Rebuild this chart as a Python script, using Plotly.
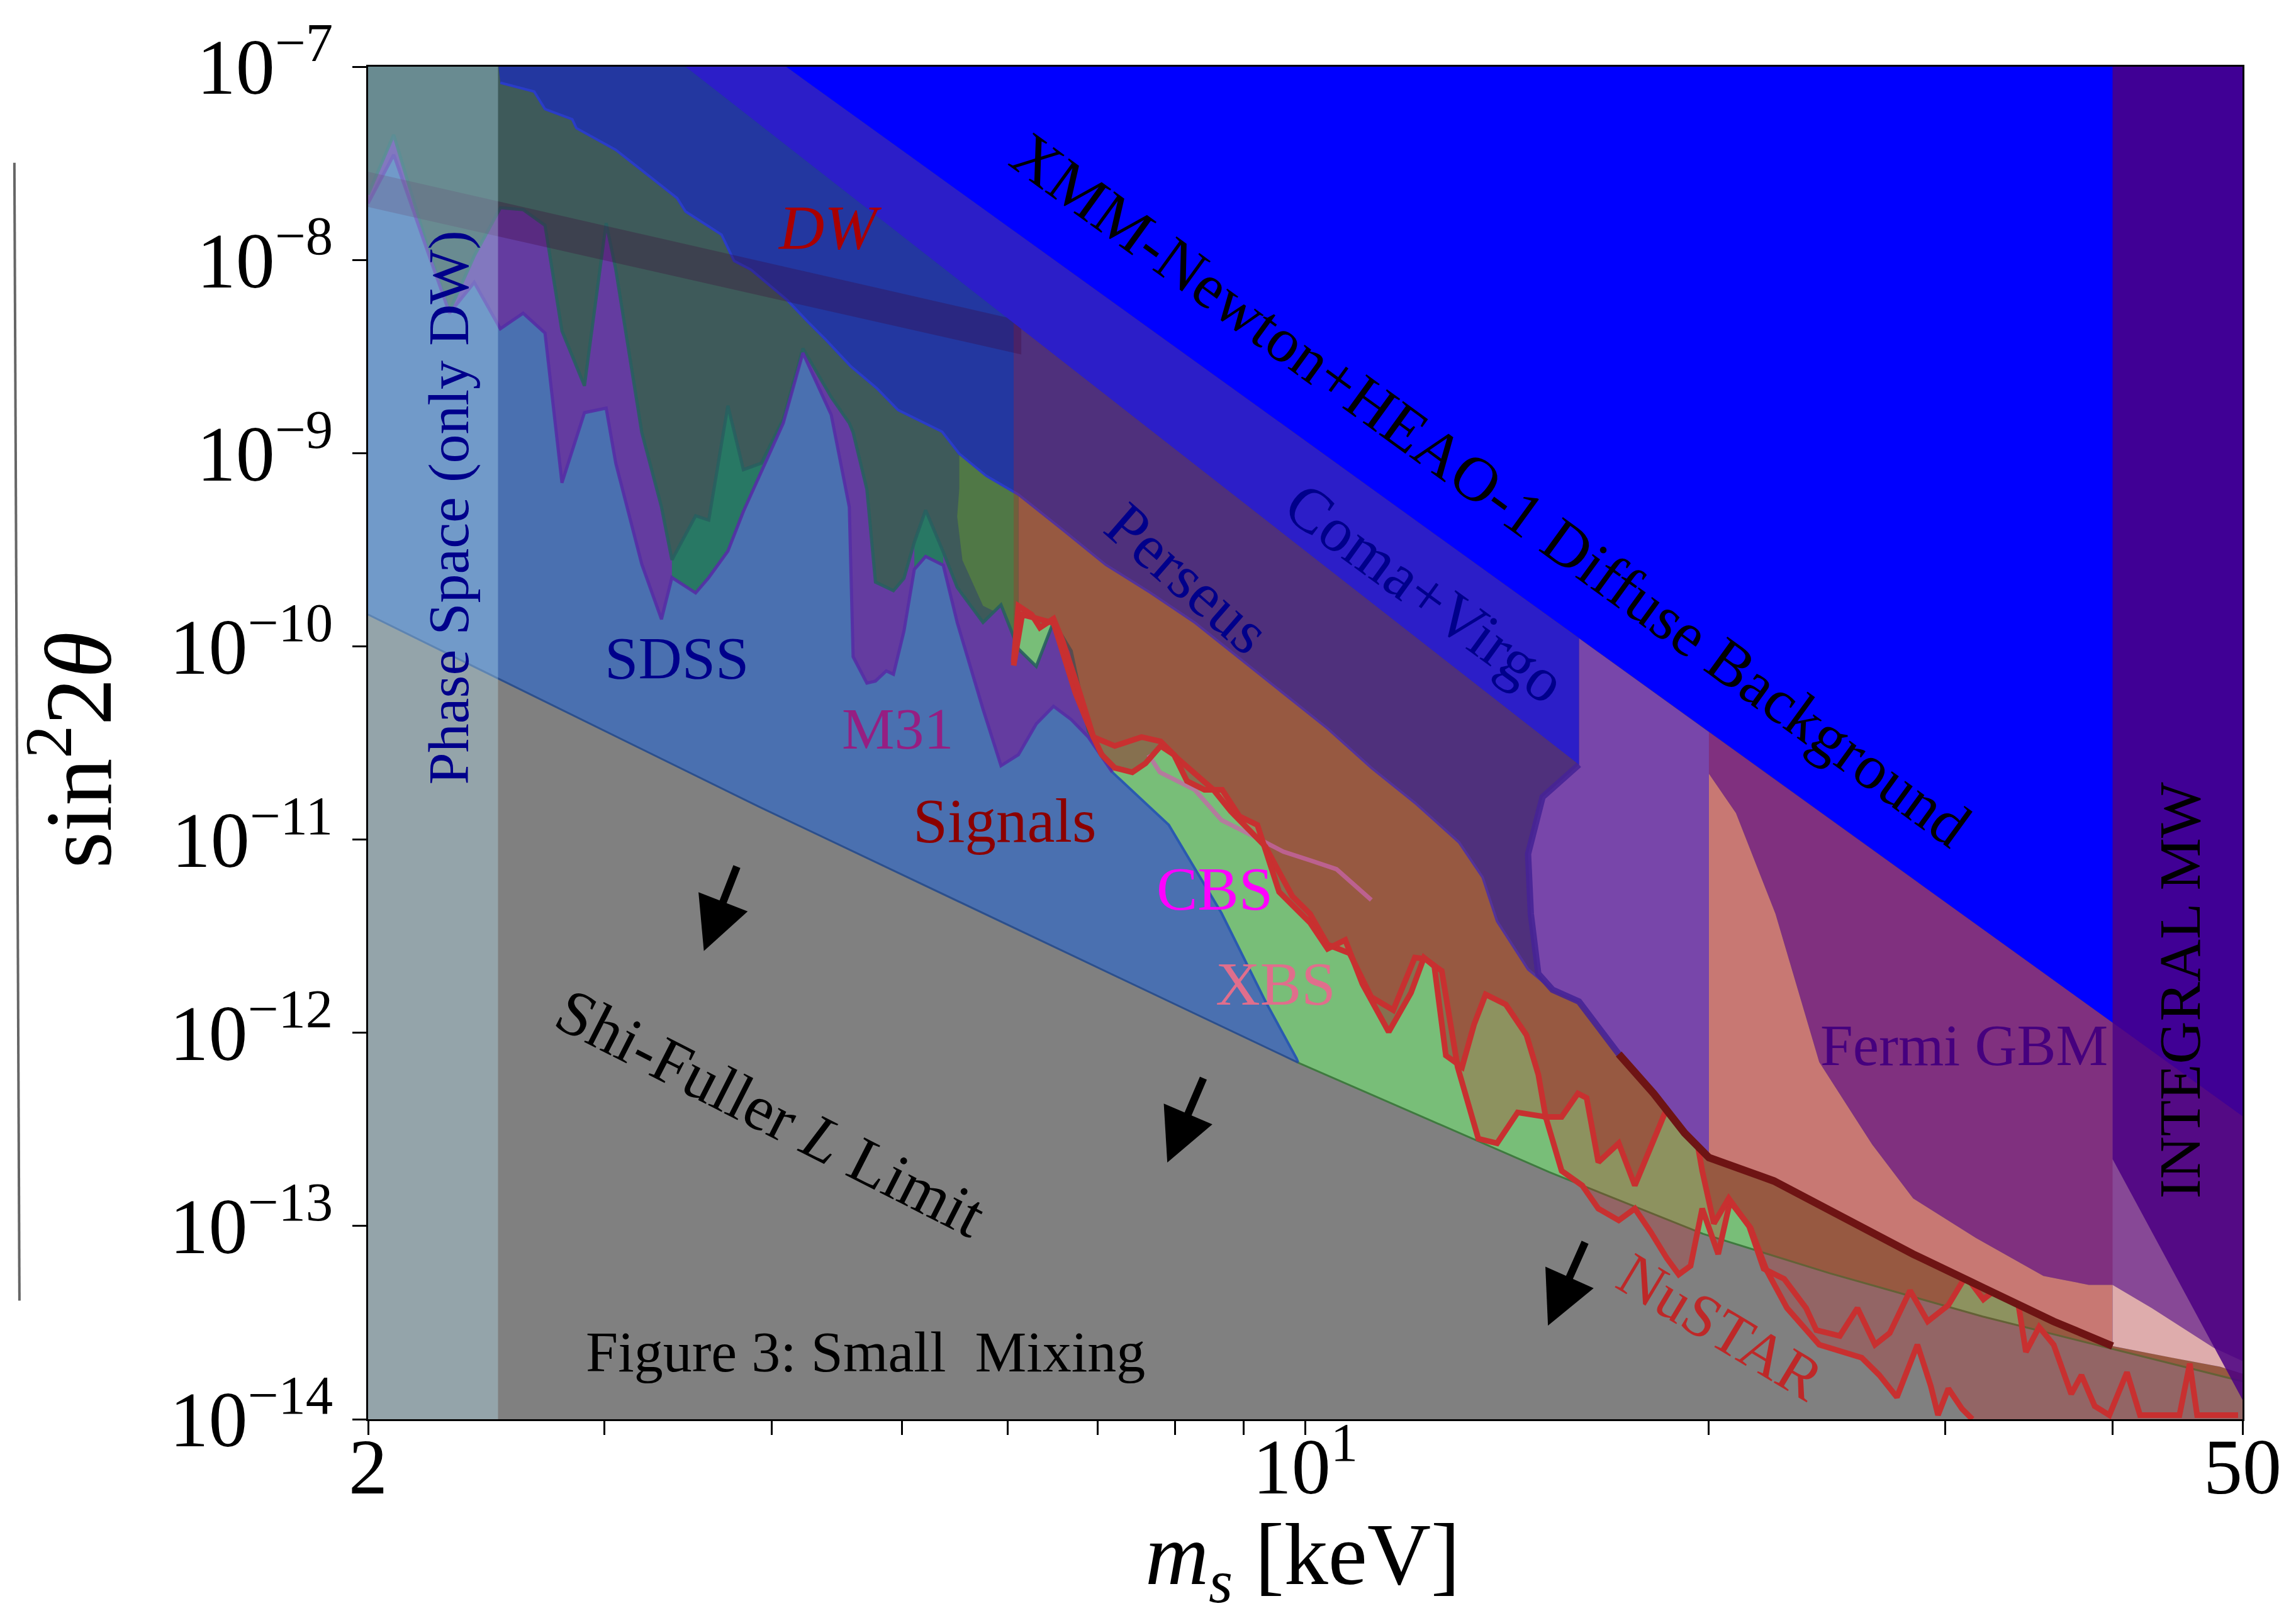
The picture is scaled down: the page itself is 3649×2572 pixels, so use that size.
import math
import plotly.graph_objects as go

FONT = "Liberation Serif, Times New Roman, serif"

# ---------------- data: m_s [keV]  vs  sin^2(2 theta) ----------------
# XMM-Newton+HEAO-1 diffuse background limit (straight in log-log)
XMM_M = [4.1, 16.0, 20.0, 40.0, 50.0]
XMM_S = [1.0e-7, 1.1e-10, 3.6e-11, 1.13e-12, 3.7e-13]

# lower edge of the Coma+Virgo band
COMA_LOW_M = [3.45, 16.0]
COMA_LOW_S = [1.0e-7, 2.44e-11]

# upper envelope of the excluded stack (Perseus lower edge / dark-red curve)
C1_M = [2.0, 2.5, 2.51, 2.66, 2.71, 2.84, 2.86, 3.06, 3.20, 3.40,
        3.45, 3.67, 3.75, 3.86, 4.11, 4.26, 4.39, 4.58, 4.79, 4.97,
        5.36, 5.52, 5.78, 6.11, 6.59, 7.10, 7.66, 8.28, 8.93, 9.63,
        10.39, 11.20, 12.07, 13.02, 13.56, 13.90, 14.66, 15.29, 16.0, 17.13,
        18.19, 19.18, 20.0, 22.36, 25.24, 28.40, 32.04, 36.14, 40.0, 44.3,
        48.1, 50.0]
C1_S = [1.05e-7, 1.05e-7, 8.26e-8, 7.44e-8, 6.04e-8, 5.34e-8, 4.81e-8, 3.71e-8, 2.91e-8, 2.09e-8,
        1.78e-8, 1.35e-8, 9.88e-9, 8.90e-9, 6.17e-9, 4.75e-9, 3.86e-9, 2.82e-9, 2.17e-9, 1.67e-9,
        1.29e-9, 9.93e-10, 7.64e-10, 6.10e-10, 4.02e-10, 2.64e-10, 1.90e-10, 1.32e-10, 8.68e-11, 5.71e-11,
        3.76e-11, 2.35e-11, 1.55e-11, 9.68e-12, 6.38e-12, 3.78e-12, 2.13e-12, 1.67e-12, 1.45e-12, 7.76e-13,
        4.85e-13, 3.03e-13, 2.26e-13, 1.71e-13, 1.105e-13, 7.15e-14, 4.79e-14, 3.21e-14, 2.39e-14, 2.08e-14,
        1.87e-14, 1.72e-14]

# left edge of the olive patch below the envelope near 5-6 keV
OLIVE_M = [6.11, 5.93, 5.75, 5.55, 5.50, 5.52]
OLIVE_S = [9.47e-11, 1.46e-10, 1.62e-10, 2.79e-10, 4.70e-10, 6.54e-10]

# SDSS / M31 band: upper (U) and lower (L) curves
BAND_M = [2.00, 2.09, 2.21, 2.30, 2.40, 2.51, 2.61, 2.71, 2.79, 2.90,
          3.01, 3.06, 3.20, 3.31, 3.37, 3.51, 3.59, 3.71, 3.81, 3.93,
          4.08, 4.22, 4.43, 4.57, 4.60, 4.71, 4.78, 4.87, 4.93, 5.02,
          5.11, 5.21, 5.37, 5.50, 5.75, 5.93, 6.11, 6.30, 6.49, 6.69,
          6.89, 7.18]
BAND_U = [2.18e-8, 4.44e-8, 1.23e-8, 5.44e-9, 1.05e-8, 1.86e-8, 1.82e-8, 1.51e-8, 4.29e-9, 2.23e-9,
          1.55e-8, 8.94e-9, 1.28e-9, 5.26e-10, 2.80e-10, 4.74e-10, 4.50e-10, 1.76e-9, 8.21e-10, 8.88e-10,
          1.50e-9, 3.48e-9, 1.95e-9, 1.43e-9, 1.28e-9, 6.49e-10, 2.15e-10, 2.03e-10, 1.94e-10, 2.25e-10,
          3.46e-10, 5.07e-10, 3.08e-10, 2.02e-10, 1.33e-10, 1.64e-10, 9.70e-11, 7.87e-11, 1.34e-10, 9.47e-11,
          3.64e-11, 2.31e-11]
BAND_L = [1.96e-8, 3.50e-8, 1.16e-8, 5.30e-9, 7.64e-9, 4.40e-9, 5.30e-9, 4.18e-9, 7.02e-10, 1.62e-9,
          1.71e-9, 8.88e-10, 2.66e-10, 1.38e-10, 2.27e-10, 1.89e-10, 2.27e-10, 3.11e-10, 4.99e-10, 8.00e-10,
          1.43e-9, 3.30e-9, 1.58e-9, 5.26e-10, 8.83e-11, 6.45e-11, 6.61e-11, 7.46e-11, 7.16e-11, 1.20e-10,
          2.50e-10, 2.92e-10, 2.63e-10, 1.33e-10, 4.72e-11, 2.41e-11, 2.75e-11, 3.97e-11, 4.89e-11, 4.18e-11,
          3.39e-11, 2.23e-11]
GREEN_RANGES = [(3.37, 4.22), (5.11, 5.37)]

# right edge of the blue region
BLUE_EDGE_M = [7.91, 8.66, 9.34, 9.85, 9.88]
BLUE_EDGE_S = [1.19e-11, 4.16e-12, 1.45e-12, 7.37e-13, 7.0e-13]

# Shi-Fuller L limit
SF_M = [2.0, 3.92, 9.88, 15.2, 19.8, 24.6, 32.0, 50.0]
SF_S = [1.46e-10, 1.47e-11, 7.0e-13, 1.90e-13, 9.1e-14, 5.7e-14, 3.4e-14, 1.57e-14]

# NuSTAR limits (two curves)
NU1_M = [6.06, 6.11, 6.25, 6.34, 6.49, 6.59, 6.79, 6.95, 7.05, 7.21,
         7.43, 7.60, 7.80, 7.98, 8.16, 8.41, 8.67, 8.93, 9.21, 9.42,
         9.56, 9.78, 10.08, 10.39, 10.71, 11.03, 11.29, 11.54, 11.99, 12.26,
         12.48, 12.73, 13.09, 13.36, 13.63, 14.11, 14.62, 14.92, 15.11, 15.53,
         15.97, 16.21, 16.54, 17.13, 17.61, 18.61, 18.99, 19.52, 19.77, 20.17,
         20.69, 21.43, 21.97, 22.76, 23.63, 24.05, 25.04, 25.81, 26.60, 27.28,
         28.25, 29.12, 30.17, 31.09, 32.04, 32.86, 33.87, 34.47, 35.26, 36.15,
         37.26, 37.92, 38.79, 39.78, 41.00, 41.93, 44.87, 45.67, 46.25, 49.62]
NU1_S = [8.24e-11, 1.62e-10, 1.46e-10, 1.25e-10, 1.39e-10, 1.07e-10, 5.71e-11, 3.39e-11, 2.75e-11, 2.35e-11,
         2.23e-11, 2.48e-11, 3.05e-11, 2.75e-11, 2.01e-11, 1.81e-11, 1.81e-11, 1.32e-11, 1.19e-11, 7.46e-12,
         5.36e-12, 4.58e-12, 3.72e-12, 2.72e-12, 3.02e-12, 1.79e-12, 1.31e-12, 1.01e-12, 1.61e-12, 2.45e-12,
         2.21e-12, 7.63e-13, 6.64e-13, 1.10e-12, 1.58e-12, 1.40e-12, 9.73e-13, 6.08e-13, 3.67e-13, 3.67e-13,
         4.85e-13, 4.60e-13, 2.14e-13, 2.68e-13, 1.62e-13, 4.08e-13, 4.22e-13, 3.19e-13, 1.93e-13, 1.03e-13,
         1.39e-13, 9.95e-14, 6.01e-14, 5.32e-14, 3.76e-14, 2.89e-14, 2.70e-14, 3.76e-14, 2.43e-14, 2.79e-14,
         4.63e-14, 3.21e-14, 3.89e-14, 5.51e-14, 4.17e-14, 4.79e-14, 4.79e-14, 2.23e-14, 3.00e-14, 2.43e-14,
         1.35e-14, 1.69e-14, 1.17e-14, 1.05e-14, 1.75e-14, 1.05e-14, 1.05e-14, 1.94e-14, 1.05e-14, 1.05e-14]
NU2_M = [6.06, 6.15, 6.49, 6.74, 6.95, 7.21, 7.55, 7.80, 8.04, 8.25,
         8.54, 8.80, 9.07, 9.34, 9.49, 9.78, 10.08, 10.39, 10.79, 11.20,
         11.63, 12.07, 12.29, 12.64, 12.99, 13.46, 13.90, 14.40, 15.11, 15.53,
         16.09, 16.54, 17.13, 17.61, 18.10, 18.61, 18.99, 19.38, 19.77, 20.32,
         20.74, 21.48, 22.08, 22.87, 24.17, 26.00, 26.80, 27.62, 28.61, 29.27,
         29.64, 30.17, 30.89, 31.44]
NU2_S = [7.95e-11, 1.46e-10, 1.32e-10, 5.71e-11, 3.39e-11, 3.05e-11, 3.39e-11, 3.22e-11, 2.61e-11, 2.23e-11,
         1.81e-11, 1.40e-11, 1.13e-11, 9.19e-12, 7.46e-12, 5.09e-12, 4.13e-12, 2.86e-12, 2.58e-12, 1.53e-12,
         1.31e-12, 2.45e-12, 2.41e-12, 2.09e-12, 6.64e-13, 2.83e-13, 2.68e-13, 3.87e-13, 3.67e-13, 1.93e-13,
         1.62e-13, 1.23e-13, 1.07e-13, 1.23e-13, 9.29e-14, 6.79e-14, 5.61e-14, 6.22e-14, 1.23e-13, 7.15e-14,
         1.34e-13, 9.78e-14, 5.90e-14, 3.76e-14, 2.43e-14, 2.08e-14, 1.69e-14, 1.30e-14, 2.43e-14, 1.49e-14,
         1.05e-14, 1.44e-14, 1.13e-14, 1.0e-14]

# CBS curve
CBS_M = [7.64, 7.79, 8.27, 8.66, 9.20, 9.63, 10.08, 10.55, 11.20]
CBS_S = [2.75e-11, 2.23e-11, 1.81e-11, 1.26e-11, 1.02e-11, 8.66e-12, 7.81e-12, 7.03e-12, 4.87e-12]

# Fermi GBM lower edge
FERMI_M = [20.0, 20.95, 22.42, 24.17, 26.47, 28.40, 31.64, 35.52, 38.40, 40.0, 42.78, 47.55, 50.0]
FERMI_S = [2.19e-11, 1.37e-11, 4.13e-12, 7.05e-13, 2.64e-13, 1.39e-13, 8.66e-14, 5.51e-14, 4.96e-14,
           4.96e-14, 3.76e-14, 2.35e-14, 2.0e-14]

# INTEGRAL MW lower edge
INTEGRAL_M = [40.0, 50.0]
INTEGRAL_S = [2.22e-13, 1.26e-14]

# left edge of the lavender region near 15-16 keV
BLOB_M = [14.92, 14.73, 14.66, 15.03, 16.0]
BLOB_S = [2.02e-12, 4.13e-12, 8.42e-12, 1.66e-11, 2.44e-11]

# DW band
DW_M = [2.0, 6.14]
DW_TOP_S = [2.86e-8, 4.84e-9]
DW_BOT_S = [1.88e-8, 3.24e-9]

# phase-space strip
PHASE_M = [2.0, 2.5]

# arrows (tip, tail)
ARROW_TIP_M = [3.56, 7.89, 15.17]
ARROW_TIP_S = [2.65e-12, 2.13e-13, 3.05e-14]
ARROW_TAIL_M = [3.77, 8.40, 16.18]
ARROW_TAIL_S = [7.33e-12, 5.89e-13, 8.33e-14]

X_TICKS = [2, 3, 4, 5, 6, 7, 8, 9, 10, 20, 30, 40, 50]
X_TICKTEXT = ["2", "", "", "", "", "", "", "", "10<sup>1</sup>", "", "", "", "50"]
Y_TICKS = [1e-14, 1e-13, 1e-12, 1e-11, 1e-10, 1e-9, 1e-8, 1e-7]
Y_TICKTEXT = ["10<sup>\u221214</sup>", "10<sup>\u221213</sup>", "10<sup>\u221212</sup>",
              "10<sup>\u221211</sup>", "10<sup>\u221210</sup>", "10<sup>\u22129</sup>",
              "10<sup>\u22128</sup>", "10<sup>\u22127</sup>"]

Y_HI = 2.0e-7
Y_LO = 1.0e-15


def seg(ms, ss, lo, hi):
    xs, ys = [], []
    for m, s in zip(ms, ss):
        if lo - 1e-9 <= m <= hi + 1e-9:
            xs.append(m)
            ys.append(s)
    return xs, ys


fig = go.Figure()


def poly(xs, ys, color):
    fig.add_trace(go.Scatter(x=xs, y=ys, mode="lines", fill="toself", fillcolor=color,
                             line=dict(width=0, color=color), hoverinfo="skip", showlegend=False))


def line(xs, ys, color, width):
    fig.add_trace(go.Scatter(x=xs, y=ys, mode="lines", line=dict(width=width, color=color),
                             hoverinfo="skip", showlegend=False))


# dark slate below envelope (left)
x, y = seg(C1_M, C1_S, 2.0, 6.11)
poly(x + [x[-1], x[0]], y + [Y_LO, Y_LO], "#3E5A5A")
# olive-brown below envelope (right)
x, y = seg(C1_M, C1_S, 6.11, 50)
poly(x + [x[-1], x[0]], y + [Y_LO, Y_LO], "#86704F")
# olive patch
x, y = seg(C1_M, C1_S, 5.52, 6.11)
poly(x + OLIVE_M, y + OLIVE_S, "#507846")
# XBS green
poly(NU1_M + [50, NU1_M[0]], NU1_S + [Y_LO, Y_LO], "#78BE78")
# M31 / SDSS band
poly(BAND_M + [BAND_M[-1], BAND_M[0]], BAND_U + [Y_LO, Y_LO], "#643CA0")
for lo, hi in GREEN_RANGES:
    xu, yu = seg(BAND_M, BAND_U, lo, hi)
    xl, yl = seg(BAND_M, BAND_L, lo, hi)
    poly(xu + xl[::-1], yu + yl[::-1], "#287864")
# blue region
poly(BAND_M + BLUE_EDGE_M + [BLUE_EDGE_M[-1], BAND_M[0]],
     BAND_L + BLUE_EDGE_S + [Y_LO, Y_LO], "#4A70B0")
# outlines
line(BAND_M, BAND_U, "rgba(40,95,95,0.9)", 5)
line(BAND_M, BAND_L, "rgba(85,45,165,0.9)", 5)
line(BAND_M[-1:] + BLUE_EDGE_M, BAND_L[-1:] + BLUE_EDGE_S, "#2A5AB0", 4)
x, y = seg(C1_M, C1_S, 2.51, 16.0)
line(x, y, "#2A3CC8", 4)
# Shi-Fuller gray
poly(SF_M + [SF_M[-1], SF_M[0]], SF_S + [Y_LO, Y_LO], "#808080")
x, y = seg(SF_M, SF_S, 2.0, 9.88)
line(x, y, "#2C4F8C", 3)
x, y = seg(SF_M, SF_S, 9.88, 50)
line(x, y, "#3F7A3F", 3)
# NuSTAR tint (above the lower NuSTAR curve)
poly(NU2_M + [50, 50, NU2_M[0]], NU2_S + [Y_LO, Y_HI, Y_HI], "rgba(200,30,30,0.27)")
# DW band
poly(DW_M + DW_M[::-1], DW_TOP_S + DW_BOT_S[::-1], "rgba(60,0,50,0.28)")
# CBS curve
line(CBS_M, CBS_S, "rgba(200,100,170,0.75)", 7)
# NuSTAR curves
line(NU2_M, NU2_S, "#C83030", 9)
line(NU1_M, NU1_S, "#C83030", 9)
# lavender region 15-20 keV
xa, ya = seg(XMM_M, XMM_S, 16.0, 20.0)
xc, yc = seg(C1_M, C1_S, 15.29, 20.0)
poly(xa + xc[::-1] + BLOB_M, ya + yc[::-1] + BLOB_S, "#7846AA")
line(BLOB_M[::-1] + xc, BLOB_S[::-1] + yc, "rgba(70,35,150,0.9)", 10)
# Fermi GBM
xa, ya = seg(XMM_M, XMM_S, 20.0, 50.0)
poly(xa + FERMI_M[::-1], ya + FERMI_S[::-1], "#80307F")
xa, ya = seg(XMM_M, XMM_S, 40.0, 50.0)
xf, yf = seg(FERMI_M, FERMI_S, 40.0, 50.0)
poly(xa + xf[::-1], ya + yf[::-1], "#874896")
# pink bands
xf, yf = seg(FERMI_M, FERMI_S, 20.0, 40.0)
xc, yc = seg(C1_M, C1_S, 20.0, 40.0)
poly(xf + xc[::-1], yf + yc[::-1], "#C87873")
xf, yf = seg(FERMI_M, FERMI_S, 40.0, 50.0)
xc, yc = seg(C1_M, C1_S, 40.0, 50.0)
poly(xf + xc[::-1], yf + yc[::-1], "#DEACAC")
# dark red envelope line
xc, yc = seg(C1_M, C1_S, 17.0, 40.0)
line(xc, yc, "#6E1414", 12)
# Coma+Virgo band
xa, ya = seg(XMM_M, XMM_S, 4.1, 16.0)
poly(xa + COMA_LOW_M[::-1], ya + COMA_LOW_S[::-1], "#2C1EC8")
# XMM-Newton + HEAO-1
poly(XMM_M + [XMM_M[-1], XMM_M[0]], XMM_S + [Y_HI, Y_HI], "#0000FF")
# INTEGRAL MW
poly([INTEGRAL_M[0], INTEGRAL_M[1]] + INTEGRAL_M[::-1], [Y_HI, Y_HI] + INTEGRAL_S[::-1],
     "rgba(75,0,130,0.85)")
# phase space strip
poly([PHASE_M[0], PHASE_M[1], PHASE_M[1], PHASE_M[0]], [Y_LO, Y_LO, Y_HI, Y_HI],
     "rgba(185,231,248,0.35)")

# ---------------- annotations ----------------
ann = []


def txt(text, x, y, size, color, angle=0):
    ann.append(dict(text=text, x=x, y=y, xref="paper", yref="paper", showarrow=False,
                    xanchor="center", yanchor="middle", textangle=angle,
                    font=dict(family=FONT, size=size, color=color)))


txt("XMM-Newton+HEAO-1 Diffuse Background", 0.599, 0.687, 100, "black", 36)
txt("Coma+Virgo", 0.564, 0.611, 100, "#00008B", 36)
txt("Perseus", 0.4374, 0.6218, 100, "#00008B", 41)
txt("<i>DW</i>", 0.2461, 0.8812, 100, "#AA0000")
txt("SDSS", 0.1648, 0.5624, 96, "#00008B")
txt("M31", 0.2828, 0.5109, 94, "#961E82")
txt("Signals", 0.3398, 0.4427, 99, "#8B0000")
txt("CBS", 0.4516, 0.3921, 98, "#FF00FF")
txt("XBS", 0.4843, 0.3220, 98, "#E06E8C")
txt("NuSTAR", 0.7217, 0.0682, 97, "#BE2828", 31)
txt("Fermi GBM", 0.8516, 0.2766, 93, "#46007E")
txt("INTEGRAL MW", 0.9664, 0.3174, 94, "black", -90)
txt("Shi-Fuller <i>L</i> Limit", 0.2148, 0.2269, 102, "black", 27)
txt("Phase Space (only DW)", 0.0430, 0.6738, 92, "#00008B", -90)
txt("Figure 3: Small\u00a0 Mixing", 0.2655, 0.0497, 92, "black")
# axis titles
txt("sin<sup>2</sup>2<i>\u03b8</i>", -0.1584, 0.4947, 150, "black", -90)
txt("<i>m</i><sub><i>s</i></sub> [keV]", 0.4985, -0.1045, 140, "black")

for tm, ts, am, as_ in zip(ARROW_TIP_M, ARROW_TIP_S, ARROW_TAIL_M, ARROW_TAIL_S):
    ann.append(dict(x=math.log10(tm), y=math.log10(ts), ax=math.log10(am), ay=math.log10(as_),
                    xref="x", yref="y", axref="x", ayref="y", text="", showarrow=True,
                    arrowhead=2, arrowsize=1.4, arrowwidth=12, arrowcolor="black", standoff=0))

axis_common = dict(type="log", ticks="outside", ticklen=22, tickwidth=3, tickcolor="black",
                   showline=True, linecolor="black", linewidth=3, mirror=True,
                   showgrid=False, zeroline=False,
                   tickfont=dict(family=FONT, size=124, color="black"))

fig.update_layout(
    width=3649, height=2572,
    margin=dict(l=577, r=93, t=93, b=324, pad=0),
    paper_bgcolor="white", plot_bgcolor="#2337A0",
    showlegend=False,
    font=dict(family=FONT, color="black"),
    xaxis=dict(range=[math.log10(2), math.log10(50)], tickvals=X_TICKS, ticktext=X_TICKTEXT,
               ticklabelstandoff=-56, **axis_common),
    yaxis=dict(range=[-14, -7], tickvals=Y_TICKS, ticktext=Y_TICKTEXT, ticklabelstandoff=6,
               **axis_common),
    annotations=ann,
    shapes=[dict(type="line", xref="paper", yref="paper", x0=-0.1887, y0=0.929, x1=-0.186, y1=0.0877,
                 line=dict(color="#666666", width=4))],
)

fig.write_html("out.html", include_plotlyjs=True, config={"displayModeBar": False})
